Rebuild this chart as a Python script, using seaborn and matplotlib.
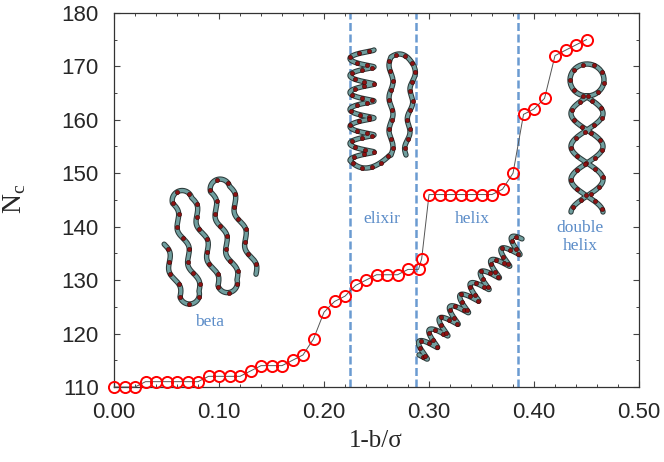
import numpy as np
import pandas as pd
import matplotlib
matplotlib.use("Agg")
import matplotlib.pyplot as plt
from matplotlib.ticker import MultipleLocator, FormatStrFormatter
import seaborn as sns

# data
spacing = [0.00, 0.01, 0.02, 0.03, 0.04, 0.05, 0.06, 0.07, 0.08, 0.09,
           0.10, 0.11, 0.12, 0.13, 0.14, 0.15, 0.16, 0.17, 0.18, 0.19,
           0.20, 0.21, 0.22, 0.23, 0.24, 0.25, 0.26, 0.27, 0.28, 0.29,
           0.293, 0.30, 0.31, 0.32, 0.33, 0.34, 0.35, 0.36, 0.37, 0.38,
           0.39, 0.40, 0.41, 0.42, 0.43, 0.44, 0.45]
n_contacts = [110, 110, 110, 111, 111, 111, 111, 111, 111, 112,
              112, 112, 112, 113, 114, 114, 114, 115, 116, 119,
              124, 126, 127, 129, 130, 131, 131, 131, 132, 132,
              134, 146, 146, 146, 146, 146, 146, 146, 147, 150,
              161, 162, 164, 172, 173, 174, 175]
transitions = [0.225, 0.288, 0.385]
phase_names = ["beta", "elixir", "helix", "double\nhelix"]
phase_x = [0.091, 0.255, 0.341, 0.444]
phase_y = [122.1, 141.4, 141.4, 138.0]

sns.set_style("ticks")
plt.rcParams["font.family"] = ["Liberation Sans", "DejaVu Sans"]
serif = ["Liberation Serif", "DejaVu Serif"]
blue = "#5b8cc8"

df = pd.DataFrame({"x": spacing, "n": n_contacts})

fig = plt.figure(figsize=(6.64, 4.62), dpi=100)
ax = fig.add_axes([0.1717, 0.1623, 0.7907, 0.810])

for t in transitions:
    ax.axvline(t, color="#6a9bd1", ls=(0, (3.2, 1.4)), lw=1.8, zorder=1)

sns.lineplot(data=df, x="x", y="n", ax=ax, color="#555555", lw=0.7,
             marker="o", ms=8, mfc="none", mec="red", mew=1.4,
             clip_on=False, zorder=3)

ax.set_xlim(0, 0.5)
ax.set_ylim(110, 180)
ax.xaxis.set_major_locator(MultipleLocator(0.1))
ax.xaxis.set_minor_locator(MultipleLocator(0.02))
ax.xaxis.set_major_formatter(FormatStrFormatter("%.2f"))
ax.yaxis.set_major_locator(MultipleLocator(10))
ax.yaxis.set_minor_locator(MultipleLocator(5))
ax.tick_params(which="both", direction="in", top=True, right=True,
               labelsize=16, pad=11, color="#444444")
ax.tick_params(which="major", length=4.5, width=0.8)
ax.tick_params(which="minor", length=2.5, width=0.7)
for s in ax.spines.values():
    s.set_linewidth(0.9)
    s.set_color("#333333")
ax.set_xlabel("")
ax.set_ylabel("")

for name, px, py in zip(phase_names, phase_x, phase_y):
    ax.text(px, py, name, color=blue, family=serif, fontsize=12.5,
            ha="center", va="center", linespacing=1.15, zorder=2)

fig.text(0.566, 0.045, "1-b/\u03c3", family=serif, fontsize=18,
         ha="center", va="center")
fig.text(0.022, 0.57, r"N$_\mathregular{c}$", family=serif, fontsize=20,
         rotation=90, ha="center", va="center")

# molecule sketches (decoration, pixel coordinates)
ov = fig.add_axes([0, 0, 1, 1], zorder=5)
ov.set_xlim(0, 664)
ov.set_ylim(462, 0)
ov.axis("off")
ov.patch.set_alpha(0)


def tube(x, y, step=10.0):
    ov.plot(x, y, color="#2c3a3a", lw=3.9, solid_capstyle="round",
            solid_joinstyle="round")
    ov.plot(x, y, color="#6f9e9e", lw=2.4, solid_capstyle="round",
            solid_joinstyle="round")
    d = np.r_[0, np.cumsum(np.hypot(np.diff(x), np.diff(y)))]
    s = np.arange(step / 2, d[-1], step)
    ov.scatter(np.interp(s, d, x), np.interp(s, d, y), s=9, color="#8e1212",
               edgecolors="#3b0505", linewidths=0.4, zorder=3)


def bez(p0, p1, p2, n=20):
    t = np.linspace(0, 1, n)[:, None]
    p = (1 - t) ** 2 * np.array(p0) + 2 * t * (1 - t) * np.array(p1) + t ** 2 * np.array(p2)
    return p[:, 0], p[:, 1]


# beta sheet
H, sp = 88.0, 19.0
us, vs = [], []
for k in range(5):
    if k == 0:
        v = np.linspace(0.6 * H, 0, 60)
    elif k % 2 == 1:
        v = np.linspace(0, H, 80)
    else:
        v = np.linspace(H, 0, 80)
    us.append(k * sp + 3.0 * np.sin(v / H * 2 * np.pi * 2.5))
    vs.append(v)
    if k < 4:
        th = np.linspace(np.pi, 0, 24)
        us.append(k * sp + sp / 2 + sp / 2 * np.cos(th))
        vs.append(-sp / 2 * np.sin(th) if v[-1] == 0 else H + sp / 2 * np.sin(th))
u = np.concatenate(us)
v = np.concatenate(vs)
tube(180 + u - 0.3 * v, 297 - 0.3 * u - v, step=13)

# elixir: helix + hairpin
th = np.linspace(0, 13 * np.pi, 500)
hx = 362 + 12 * np.cos(th)
hy = 50 + th / (2 * np.pi) * 17 - 1.5 * np.sin(th)
bx, by = bez((hx[-1], hy[-1]), (366, 178), (390, 155))
yy = np.linspace(155, 57, 80)
sx = 391 + 2.0 * np.sin((155 - yy) / 98 * 2 * np.pi * 3)
tx, ty = bez((sx[-1], 57), (404, 48), (414, 66))
yy2 = np.linspace(66, 155, 80)
dx = 414 - 8 * (yy2 - 66) / 89 + 2.0 * np.sin((yy2 - 66) / 89 * 2 * np.pi * 3)
tube(np.r_[hx, bx, sx, tx, dx], np.r_[hy, by, yy, ty, yy2], step=10)

# single helix
p0 = np.array([418.0, 356.0])
p1 = np.array([521.0, 240.0])
L = np.hypot(*(p1 - p0))
a = (p1 - p0) / L
nrm = np.array([-a[1], a[0]])
th = np.linspace(0, 20 * np.pi, 600)
pts = p0 + np.outer(th / th[-1] * L, a) + np.outer(9 * np.sin(th), nrm) + np.outer(1.5 * np.cos(th), a)
tube(pts[:, 0], pts[:, 1], step=9)

# double helix
yy = np.linspace(212, 97, 120)
s1 = 587 + 16 * np.sin(np.pi * (yy - 97) / 33)
phi = np.linspace(-np.pi / 2, -5 * np.pi / 2, 80)
cx = 587 + 17 * np.cos(phi)
cy = 80 - 16 * np.sin(phi)
yy_b = yy[::-1]
s2 = 587 - 16 * np.sin(np.pi * (yy_b - 97) / 33)
tube(np.r_[s1, cx, s2], np.r_[yy, cy, yy_b], step=11)

fig.savefig("out.png", dpi=100)
